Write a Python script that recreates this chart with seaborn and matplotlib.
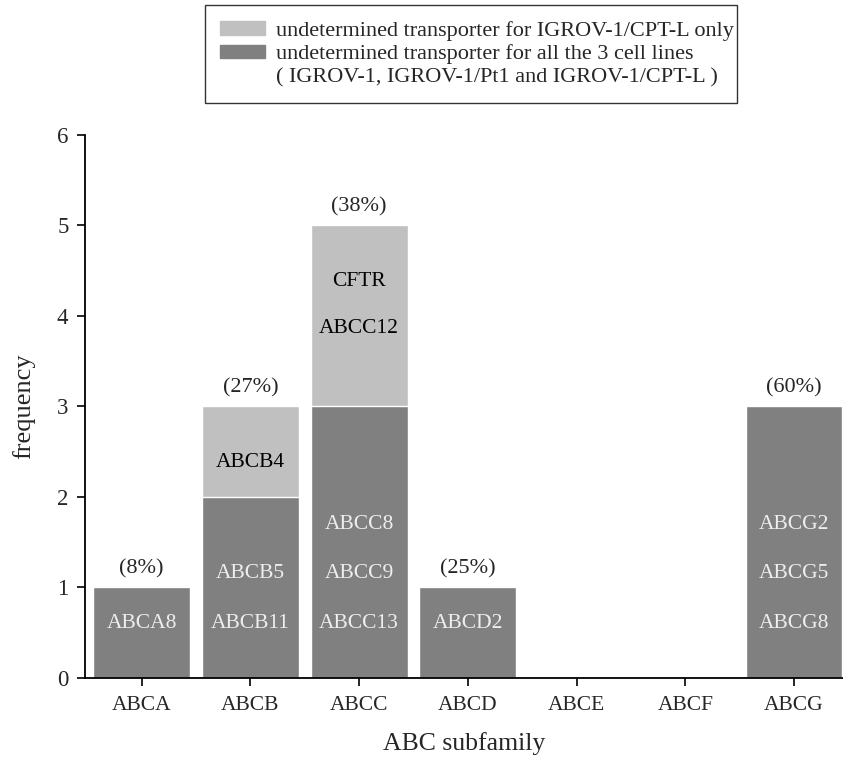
import numpy as np
import pandas as pd
import matplotlib
matplotlib.use("Agg")
import matplotlib.pyplot as plt
import matplotlib.patches as mpatches
import seaborn as sns

subfamilies = ["ABCA", "ABCB", "ABCC", "ABCD", "ABCE", "ABCF", "ABCG"]
all_three = [1, 2, 3, 1, 0, 0, 3]
cptl_only = [0, 1, 2, 0, 0, 0, 0]
percent_labels = ["(8%)", "(27%)", "(38%)", "(25%)", "", "", "(60%)"]
dark_genes = [["ABCA8"], ["ABCB11", "ABCB5"], ["ABCC13", "ABCC9", "ABCC8"],
              ["ABCD2"], [], [], ["ABCG8", "ABCG5", "ABCG2"]]
light_genes = [[], ["ABCB4"], ["CFTR", "ABCC12"], [], [], [], []]

dark = "#808080"
light = "#c0c0c0"

sns.set_style("white")
plt.rcParams["font.family"] = ["Liberation Serif", "DejaVu Serif"]

df = pd.DataFrame({"sub": subfamilies, "dark": all_three, "light": cptl_only})
df["total"] = df["dark"] + df["light"]

fig = plt.figure(figsize=(8.43, 7.66), dpi=100)
ax = fig.add_axes([0.101, 0.115, 0.899, 0.709])

sns.barplot(data=df, x="sub", y="total", color=light, saturation=1, width=0.89,
            edgecolor="white", linewidth=1, ax=ax)
sns.barplot(data=df, x="sub", y="dark", color=dark, saturation=1, width=0.89,
            edgecolor="white", linewidth=1, ax=ax)

for i in range(len(subfamilies)):
    tot = df["total"][i]
    if percent_labels[i]:
        ax.text(i, tot + 0.2, percent_labels[i], ha="center", va="center", fontsize=16)
    for k, g in enumerate(dark_genes[i]):
        ax.text(i, 0.6 + 0.55 * k, g, ha="center", va="center", fontsize=15.5,
                color="#eeeeee")
    for k, g in enumerate(light_genes[i]):
        ax.text(i, tot - 0.62 - 0.52 * k, g, ha="center", va="center", fontsize=15.5,
                color="black")

ax.set_xlim(-0.52, 6.45)
ax.set_ylim(0, 6)
ax.set_yticks(range(7))
ax.set_xlabel("ABC subfamily", fontsize=18.5, labelpad=12)
ax.set_ylabel("frequency", fontsize=19, labelpad=16)
ax.tick_params(axis="both", labelsize=15.5, direction="out", length=6, width=1.2,
               color="black", left=True, bottom=True)
ax.tick_params(axis="x", pad=7)
ax.tick_params(axis="y", labelsize=16.5, pad=6)
sns.despine(ax=ax)
for s in ["left", "bottom"]:
    ax.spines[s].set_color("black")
    ax.spines[s].set_linewidth(1.3)

handles = [mpatches.Patch(color=light), mpatches.Patch(color=dark),
           mpatches.Patch(facecolor="none", edgecolor="none")]
labels = ["undetermined transporter for IGROV-1/CPT-L only",
          "undetermined transporter for all the 3 cell lines",
          "( IGROV-1, IGROV-1/Pt1 and IGROV-1/CPT-L )"]
leg = fig.legend(handles, labels, loc="upper left",
                 bbox_to_anchor=(0.243, 0.866, 0.631, 0.127), mode="expand",
                 fontsize=16, frameon=True, fancybox=False, edgecolor="black",
                 handlelength=2.0, handleheight=0.55, labelspacing=0.16,
                 borderpad=0.7, handletextpad=0.5, borderaxespad=0)
leg.get_frame().set_linewidth(1.0)

fig.savefig("out.png", dpi=100)
